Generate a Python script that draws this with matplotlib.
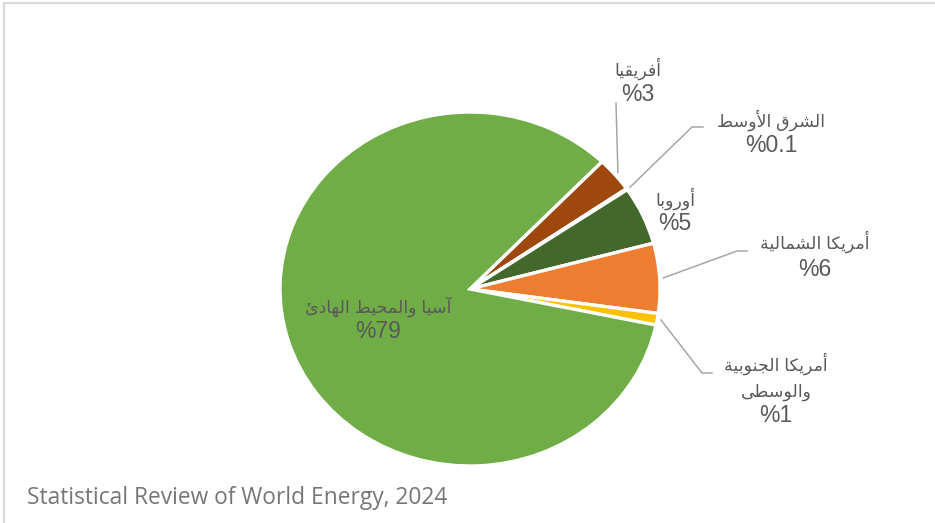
import matplotlib
matplotlib.use("Agg")
import matplotlib.pyplot as plt
from matplotlib.lines import Line2D
import numpy as np

# ---------------- data ----------------
regions = ["أفريقيا", "الشرق الأوسط", "أوروبا", "أمريكا الشمالية",
           "أمريكا الجنوبية\nوالوسطى", "آسيا والمحيط الهادئ"]
shares = [3, 0.1, 5, 6, 1, 79]
share_labels = ["%3", "%0.1", "%5", "%6", "%1", "%79"]
colors = ["#9E480E", "#264478", "#43682B", "#ED7D31", "#FFC000", "#70AD47"]
source = "Statistical Review of World Energy, 2024"

# ---------------- minimal Arabic shaping ----------------
FORMS = {
    '\u0627': ('\uFE8D', '\uFE8E', None, None),
    '\u0623': ('\uFE83', '\uFE84', None, None),
    '\u0622': ('\uFE81', '\uFE82', None, None),
    '\u0625': ('\uFE87', '\uFE88', None, None),
    '\u0628': ('\uFE8F', '\uFE90', '\uFE91', '\uFE92'),
    '\u0629': ('\uFE93', '\uFE94', None, None),
    '\u062C': ('\uFE9D', '\uFE9E', '\uFE9F', '\uFEA0'),
    '\u062D': ('\uFEA1', '\uFEA2', '\uFEA3', '\uFEA4'),
    '\u062F': ('\uFEA9', '\uFEAA', None, None),
    '\u0631': ('\uFEAD', '\uFEAE', None, None),
    '\u0633': ('\uFEB1', '\uFEB2', '\uFEB3', '\uFEB4'),
    '\u0634': ('\uFEB5', '\uFEB6', '\uFEB7', '\uFEB8'),
    '\u0637': ('\uFEC1', '\uFEC2', '\uFEC3', '\uFEC4'),
    '\u0641': ('\uFED1', '\uFED2', '\uFED3', '\uFED4'),
    '\u0642': ('\uFED5', '\uFED6', '\uFED7', '\uFED8'),
    '\u0643': ('\uFED9', '\uFEDA', '\uFEDB', '\uFEDC'),
    '\u0644': ('\uFEDD', '\uFEDE', '\uFEDF', '\uFEE0'),
    '\u0645': ('\uFEE1', '\uFEE2', '\uFEE3', '\uFEE4'),
    '\u0646': ('\uFEE5', '\uFEE6', '\uFEE7', '\uFEE8'),
    '\u0647': ('\uFEE9', '\uFEEA', '\uFEEB', '\uFEEC'),
    '\u0648': ('\uFEED', '\uFEEE', None, None),
    '\u0649': ('\uFEEF', '\uFEF0', None, None),
    '\u064A': ('\uFEF1', '\uFEF2', '\uFEF3', '\uFEF4'),
    '\u0626': ('\uFE89', '\uFE8A', '\uFE8B', '\uFE8C'),
}
LAM_ALEF = {'\u0627': ('\uFEFB', '\uFEFC'), '\u0623': ('\uFEF7', '\uFEF8'),
            '\u0622': ('\uFEF5', '\uFEF6'), '\u0625': ('\uFEF9', '\uFEFA')}


def shape_line(text):
    tokens = []
    i = 0
    while i < len(text):
        c = text[i]
        if c == '\u0644' and i + 1 < len(text) and text[i + 1] in LAM_ALEF:
            iso, fin = LAM_ALEF[text[i + 1]]
            tokens.append((iso, fin, None, None))
            i += 2
        elif c in FORMS:
            tokens.append(FORMS[c])
            i += 1
        else:
            tokens.append(c)
            i += 1
    out = []
    for k, t in enumerate(tokens):
        if isinstance(t, str):
            out.append(t)
            continue
        prev = tokens[k - 1] if k > 0 else None
        nxt = tokens[k + 1] if k + 1 < len(tokens) else None
        jp = isinstance(prev, tuple) and prev[2] is not None
        jn = t[2] is not None and isinstance(nxt, tuple)
        if jp and jn:
            f = t[3]
        elif jp:
            f = t[1]
        elif jn:
            f = t[2]
        else:
            f = t[0]
        out.append(f)
    return ''.join(reversed(out))


def shape(text):
    return "\n".join(shape_line(l) for l in text.split("\n"))


# ---------------- figure ----------------
W, H = 935, 523
fig = plt.figure(figsize=(W / 100, H / 100), dpi=100)
fig.patch.set_facecolor("white")


def fx(x):
    return x / W


def fy(y):
    return 1 - y / H


cx, cy, rx, ry = 470, 289, 190, 177
ax = fig.add_axes([fx(cx - rx), fy(cy + ry), 2 * rx / W, 2 * ry / H])
start = 46
wedges, _ = ax.pie(shares, colors=colors, startangle=start, counterclock=False,
                   wedgeprops=dict(edgecolor="white", linewidth=2.4))
ax.set_aspect("auto")
ax.set_xlim(-1, 1)
ax.set_ylim(-1, 1)
ax.axis("off")

# frame lines (light gray border of the chart area)
fig.add_artist(Line2D([fx(4), 1], [fy(3), fy(3)], color="#d9d9d9", lw=1.6))
fig.add_artist(Line2D([fx(4), fx(4)], [0, fy(3)], color="#d9d9d9", lw=1.6))

fam = ["Liberation Sans", "DejaVu Sans"]
tcol = "#595959"

# label layout: (centre x, name y, value y, elbow points in px or None)
layout = [
    (638, 69, 95, [(616, 103)]),
    (771, 120, 146, [(703, 127), (692, 127)]),
    (675, 199, 223, None),
    (815, 242, 270, [(747, 251), (737, 251)]),
    (776, 377, 415, [(712, 373), (702, 373)]),
    (378, 307, 332, None),
]

fig.canvas.draw()
for w, name, val, (lx, ny, vy, elbow) in zip(wedges, regions, share_labels, layout):
    fig.text(fx(lx), fy(ny), shape(name), ha="center", va="center",
             fontsize=12.5, color=tcol, family=fam, linespacing=1.7)
    fig.text(fx(lx), fy(vy), val, ha="center", va="center",
             fontsize=16.5, color=tcol, family=fam)
    if elbow:
        mid = np.deg2rad((w.theta1 + w.theta2) / 2)
        px, py = ax.transData.transform((1.02 * np.cos(mid), 1.02 * np.sin(mid)))
        xs = [fx(x) for x, _ in elbow] + [px / W]
        ys = [fy(y) for _, y in elbow] + [py / H]
        fig.add_artist(Line2D(xs, ys, color="#a6a6a6", lw=1.1))

fig.text(fx(27), fy(498), source, ha="left", va="center", fontsize=16.4,
         color="#767676", family="Open Sans")

fig.savefig("out.png", dpi=100, facecolor="white")
